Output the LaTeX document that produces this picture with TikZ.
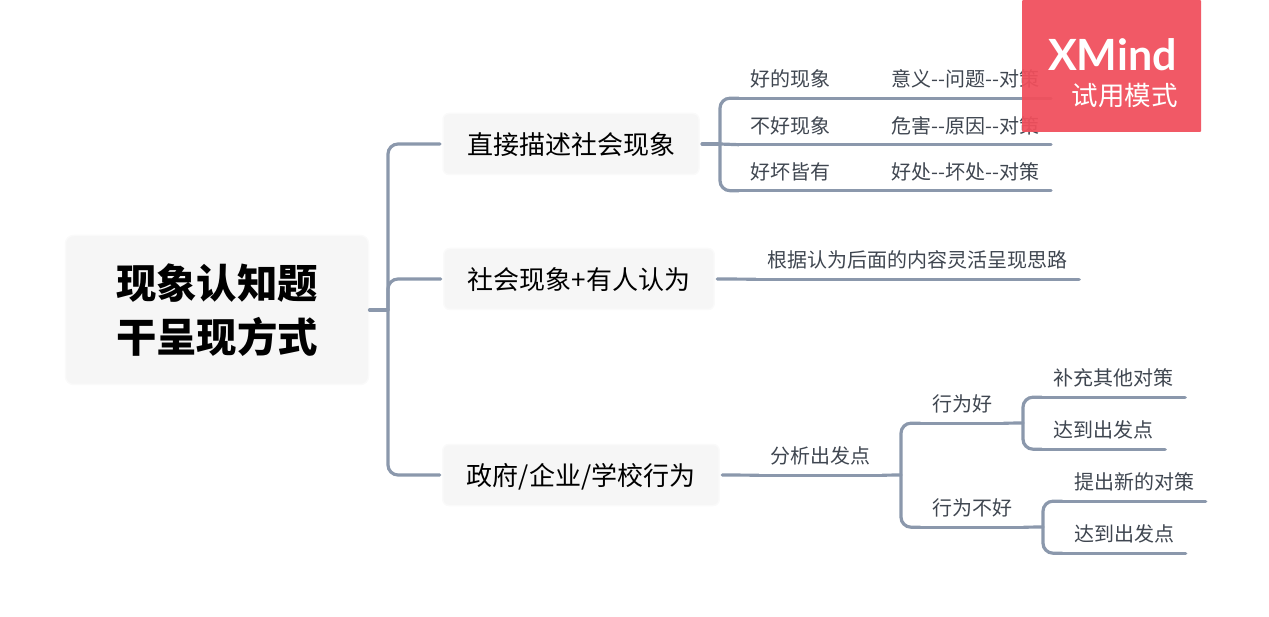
\documentclass[tikz,border=0pt]{standalone}
\usepackage{fontspec}
\newfontfamily\cjk{Noto Sans CJK SC}
\newfontfamily\logofont{Lato}
\definecolor{branchgray}{HTML}{8B98AC}
\definecolor{boxgray}{HTML}{F6F6F6}
\definecolor{boxedge}{HTML}{FAFAFA}
\definecolor{leaftext}{HTML}{3F4650}
\definecolor{logored}{HTML}{F04F5C}

\begin{document}
\begin{tikzpicture}[x=1pt,y=-1pt,
    root/.style ={rectangle, rounded corners=8pt, draw=boxedge, line width=1.5pt, outer sep=1pt, fill=boxgray, minimum width=303pt, minimum height=149pt, align=center, font=\cjk\bfseries\fontsize{40.4}{54}\selectfont},
    topic/.style ={rectangle, rounded corners=6pt, draw=boxedge, line width=1.5pt, outer sep=3pt, fill=boxgray, minimum height=61pt, inner xsep=24pt, inner ysep=0pt, text height=26pt, text depth=4.2pt, font=\cjk\fontsize{26}{30}\selectfont},
    leaf/.style ={rectangle, inner xsep=11.5pt, inner ysep=0pt, minimum height=40pt, text height=20pt, text depth=2.8pt, text=leaftext, font=\cjk\fontsize{20}{24}\selectfont},
    branch/.style ={draw=branchgray, line width=3.2pt, line cap=round}]
   \useasboundingbox (0,0) rectangle (1269,617);
   \node[root] (r) at (217,310) {现象认知题\\干呈现方式};
   \node[topic] (t1) at (571,144) {直接描述社会现象};
   \node[topic] (t2) at (579,279) {社会现象+有人认为};
   \node[topic] (t3) at (581,475) {政府/企业/学校行为};
   \node[leaf] (a1) at (790.5,78) {好的现象};
   \node[leaf] (a2) at (790.5,124.5) {不好现象};
   \node[leaf] (a3) at (790.5,170.5) {好坏皆有};
   \node[leaf] (b1) at (965.5,78) {意义--问题--对策};
   \node[leaf] (b2) at (965.5,124.5) {危害--原因--对策};
   \node[leaf] (b3) at (965.5,170.5) {好处--坏处--对策};
   \node[leaf] (c) at (917.5,259) {根据认为后面的内容灵活呈现思路};
   \node[leaf] (d) at (820.5,455) {分析出发点};
   \node[leaf] (e1) at (962,403) {行为好};
   \node[leaf] (e2) at (972,507) {行为不好};
   \node[leaf] (f1) at (1113.5,377) {补充其他对策};
   \node[leaf] (f2) at (1103.5,429) {达到出发点};
   \node[leaf] (g1) at (1134,481) {提出新的对策};
   \node[leaf] (g2) at (1124,533) {达到出发点};
   \coordinate (jr) at (388,310);
   \coordinate (j1) at (720,144);
   \coordinate (j3) at (901,475);
   \coordinate (je1) at (1023,423);
   \coordinate (je2) at (1043,527);
   % root to topics
   \draw[branch] (r.east) -- (jr);
   \draw[branch,rounded corners=10pt] (t1.west) -| (jr) |- (t3.west);
   \draw[branch,rounded corners=10pt] (t2.west) -| (jr);
   % first topic
   \draw[branch] (t1.east) -- (j1);
   \draw[branch,rounded corners=10pt] (a1.south west) -| (j1) |- (a3.south west);
   \draw[branch] (j1) -- (a2.south west);
   \foreach \n in {a1,a2,a3,b1,b2,b3,c,d,e1,e2,f1,f2,g1,g2}
     \draw[branch] (\n.south west) -- (\n.south east);
   \draw[branch] (a1.south east) -- (b1.south west);
   \draw[branch] (a2.south east) -- (b2.south west);
   \draw[branch] (a3.south east) -- (b3.south west);
   % second topic
   \draw[branch] (t2.east) -- (c.south west);
   % third topic
   \draw[branch] (t3.east) -- (d.south west);
   \draw[branch] (d.south east) -- (j3);
   \draw[branch,rounded corners=10pt] (e1.south west) -| (j3) |- (e2.south west);
   \draw[branch] (e1.south east) -- (je1);
   \draw[branch,rounded corners=10pt] (f1.south west) -| (je1) |- (f2.south west);
   \draw[branch] (e2.south east) -- (je2);
   \draw[branch,rounded corners=10pt] (g1.south west) -| (je2) |- (g2.south west);
   % trial stamp
   \node[rectangle, rounded corners=1pt, fill=logored, fill opacity=0.94, minimum width=179pt, minimum height=132pt, inner sep=0pt] (stamp) at (1111.5,66) {};
   \node[text=white, inner sep=0pt, font=\logofont\bfseries\fontsize{43}{44}\selectfont] (logo) at (1112.5,55) {XMind};
   \node[text=white, inner sep=0pt, font=\cjk\fontsize{26.5}{30}\selectfont] (trial) at (1124.5,96) {试用模式};
 \end{tikzpicture}
\end{document}
